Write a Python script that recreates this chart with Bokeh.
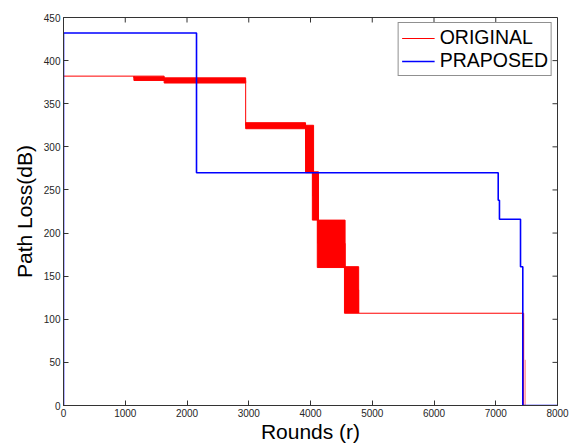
import math
from bokeh.plotting import figure
from bokeh.models import FixedTicker, Legend, LegendItem, Range1d
from bokeh.embed import file_html
from bokeh.resources import INLINE

# ---- data ----
x_ticks = [0, 1000, 2000, 3000, 4000, 5000, 6000, 7000, 8000]
y_ticks = [0, 50, 100, 150, 200, 250, 300, 350, 400, 450]
x_min, x_max = 0, 8000
y_min, y_max = 0, 450

# ORIGINAL (red): thin step line
orig_x = [0, 0, 1140, 1140, 1630, 1630, 2950, 2950, 3920, 3920, 4040, 4040,
          4120, 4120, 4560, 4560, 4780, 4780, 7452, 7452]
orig_y = [0, 382, 382, 380, 380, 377, 377, 325, 325, 298, 298, 243,
          243, 188, 188, 134, 134, 107, 107, 0]
# ORIGINAL (red): oscillating parts drawn as filled bands
band_left = [1140, 1630, 2950, 3920, 4030, 4110, 4550]
band_right = [1630, 2950, 3920, 4050, 4130, 4560, 4780]
band_bottom = [377, 374, 321, 270, 215, 160, 107]
band_top = [382, 380, 328, 325, 271, 215, 161]
# faint trailing red segment
tail_x = [7478, 7478]
tail_y = [0, 53]

# PRAPOSED (blue)
prop_x = [0, 0, 2154, 2154, 7040, 7040, 7060, 7060, 7401, 7401, 7438, 7438, 8000]
prop_y = [0, 432, 432, 270, 270, 238, 238, 216, 216, 161, 161, 0, 0]

FONT = "Liberation Sans"
AX = "#333333"

p = figure(width=569, height=445, output_backend="svg", toolbar_location=None,
           x_range=Range1d(x_min, x_max), y_range=Range1d(y_min, y_max),
           min_border_left=63, min_border_right=12, min_border_top=17,
           min_border_bottom=38, x_axis_label="Rounds (r)",
           y_axis_label="Path Loss(dB)")
p.xgrid.visible = False
p.ygrid.visible = False
p.outline_line_color = AX
p.outline_line_width = 1
p.background_fill_color = "white"
p.border_fill_color = "white"

for ax, ticks in ((p.xaxis[0], x_ticks), (p.yaxis[0], y_ticks)):
    ax.ticker = FixedTicker(ticks=ticks)
    ax.major_tick_in = 5
    ax.major_tick_out = 0
    ax.minor_tick_in = 0
    ax.minor_tick_out = 0
    ax.axis_line_color = AX
    ax.major_tick_line_color = AX
    ax.major_label_text_font = FONT
    ax.major_label_text_font_size = "10px"
    ax.major_label_text_color = "#262626"
    ax.major_label_standoff = 3
    ax.axis_label_text_font = FONT
    ax.axis_label_text_font_size = "21px"
    ax.axis_label_text_font_style = "normal"
    ax.axis_label_text_color = "black"
p.xaxis[0].axis_label_standoff = 0
p.yaxis[0].axis_label_standoff = 5

# inward ticks on the top and right edges of the box
p.ray(x=x_ticks, y=[y_max] * len(x_ticks), length=5, length_units="screen",
      angle=-math.pi / 2, line_color=AX, line_width=1)
p.ray(x=[x_max] * len(y_ticks), y=y_ticks, length=5, length_units="screen",
      angle=math.pi, line_color=AX, line_width=1)

p.quad(left=band_left, right=band_right, bottom=band_bottom, top=band_top,
       fill_color="#ff0000", line_color="#ff0000", line_width=1)
r_orig = p.line(orig_x, orig_y, line_color="#ff0000", line_width=1)
p.line(tail_x, tail_y, line_color="#ff0000", line_width=1, line_alpha=0.45)
r_prop = p.line(prop_x, prop_y, line_color="#0000ff", line_width=1.6)

legend = Legend(items=[LegendItem(label="ORIGINAL", renderers=[r_orig]),
                       LegendItem(label="PRAPOSED", renderers=[r_prop])],
                location="top_right")
legend.margin = 5
legend.padding = 3
legend.spacing = 0
legend.label_standoff = 5
legend.glyph_width = 33
legend.glyph_height = 22
legend.label_height = 22
legend.label_text_font = FONT
legend.label_text_font_size = "19.5px"
legend.label_text_color = "black"
legend.border_line_color = "#222222"
legend.border_line_width = 1
legend.background_fill_alpha = 1
p.add_layout(legend, "center")

open("out.html", "w").write(file_html(p, INLINE))
